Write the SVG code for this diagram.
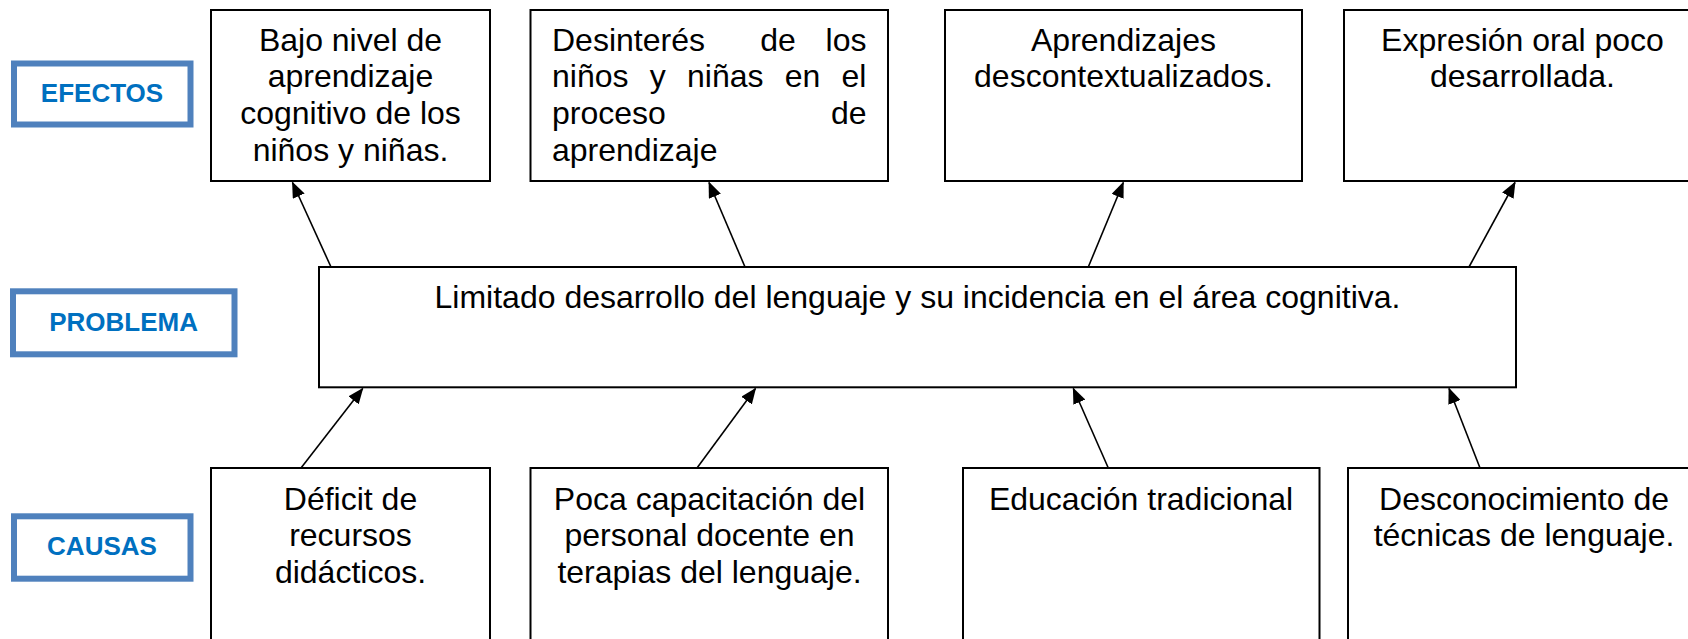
<svg xmlns="http://www.w3.org/2000/svg" width="1688" height="639" viewBox="0 0 1688 639">
<defs>
<style>
.bg{fill:#ffffff}
.box{fill:#ffffff;stroke:#000000;stroke-width:2}
.lbl{fill:#ffffff;stroke:#4F81BD;stroke-width:6}
.lt{font-family:"Liberation Sans",Arial,sans-serif;font-weight:bold;font-size:26px;fill:#0070C0;text-anchor:middle}
.t{font-family:"Liberation Sans",Arial,sans-serif;font-size:32px;fill:#000000}
.c{text-anchor:middle}
.e{text-anchor:end}
.con{stroke:#000000;stroke-width:1.6;fill:none;marker-end:url(#ah)}
</style>
<marker id="ah" viewBox="0 0 16 13" refX="15" refY="6.5" markerWidth="16" markerHeight="13" markerUnits="userSpaceOnUse" orient="auto">
<path d="M0,0 L16,6.5 L0,13 Z" fill="#000000"/>
</marker>
</defs>
<rect class="bg" x="0" y="0" width="1688" height="639"/>

<g id="label-efectos">
<rect class="lbl" x="14" y="63.5" width="176.5" height="61"/>
<text class="lt" x="102" y="101.7">EFECTOS</text>
</g>
<g id="label-problema">
<rect class="lbl" x="13" y="291.3" width="221.5" height="63"/>
<text class="lt" x="123.6" y="330.7">PROBLEMA</text>
</g>
<g id="label-causas">
<rect class="lbl" x="14" y="516.3" width="176.5" height="62.4"/>
<text class="lt" x="102" y="555">CAUSAS</text>
</g>

<g id="effect-1">
<rect class="box" x="211" y="10" width="279" height="171"/>
<text class="t c" x="350.5" y="50.5">Bajo nivel de</text>
<text class="t c" x="350.5" y="87.3">aprendizaje</text>
<text class="t c" x="350.5" y="124.1">cognitivo de los</text>
<text class="t c" x="350.5" y="160.9">niños y niñas.</text>
</g>
<g id="effect-2">
<rect class="box" x="530.5" y="10" width="357.5" height="171"/>
<text class="t" y="50.5"><tspan x="552">Desinterés</tspan><tspan x="778" text-anchor="middle">de</tspan><tspan x="866.5" text-anchor="end">los</tspan></text>
<text class="t" x="552" y="87.3" word-spacing="12.35">niños y niñas en el</text>
<text class="t" y="124.1"><tspan x="552">proceso</tspan><tspan x="866.5" text-anchor="end">de</tspan></text>
<text class="t" x="552" y="160.9">aprendizaje</text>
</g>
<g id="effect-3">
<rect class="box" x="945" y="10" width="357" height="171"/>
<text class="t c" x="1123.5" y="50.5">Aprendizajes</text>
<text class="t c" x="1123.5" y="87.3">descontextualizados.</text>
</g>
<g id="effect-4">
<rect class="box" x="1344" y="10" width="400" height="171"/>
<text class="t c" x="1522.5" y="50.5">Expresión oral poco</text>
<text class="t c" x="1522.5" y="87.3">desarrollada.</text>
</g>

<g id="problem">
<rect class="box" x="319" y="267" width="1197" height="120.3"/>
<text class="t c" x="917.5" y="307.5">Limitado desarrollo del lenguaje y su incidencia en el área cognitiva.</text>
</g>

<g id="cause-1">
<rect class="box" x="211" y="468" width="279" height="200"/>
<text class="t c" x="350.5" y="509.5">Déficit de</text>
<text class="t c" x="350.5" y="546.3">recursos</text>
<text class="t c" x="350.5" y="583.1">didácticos.</text>
</g>
<g id="cause-2">
<rect class="box" x="530.5" y="468" width="357.5" height="200"/>
<text class="t c" x="709.5" y="509.5">Poca capacitación del</text>
<text class="t c" x="709.5" y="546.3">personal docente en</text>
<text class="t c" x="709.5" y="583.1">terapias del lenguaje.</text>
</g>
<g id="cause-3">
<rect class="box" x="963" y="468" width="356.5" height="200"/>
<text class="t c" x="1141" y="509.5">Educación tradicional</text>
</g>
<g id="cause-4">
<rect class="box" x="1348" y="468" width="400" height="200"/>
<text class="t c" x="1524" y="509.5">Desconocimiento de</text>
<text class="t c" x="1524" y="546.3">técnicas de lenguaje.</text>
</g>

<g id="connectors">
<line class="con" x1="331" y1="267" x2="292.5" y2="182.5"/>
<line class="con" x1="745" y1="267" x2="709" y2="182.5"/>
<line class="con" x1="1088.3" y1="267" x2="1123.3" y2="182.5"/>
<line class="con" x1="1469" y1="267" x2="1515" y2="182.5"/>
<line class="con" x1="301" y1="468" x2="362.7" y2="388.5"/>
<line class="con" x1="697" y1="468" x2="755.5" y2="388.5"/>
<line class="con" x1="1108.3" y1="468" x2="1073.3" y2="388.5"/>
<line class="con" x1="1480" y1="468" x2="1449" y2="388.5"/>
</g>
</svg>
